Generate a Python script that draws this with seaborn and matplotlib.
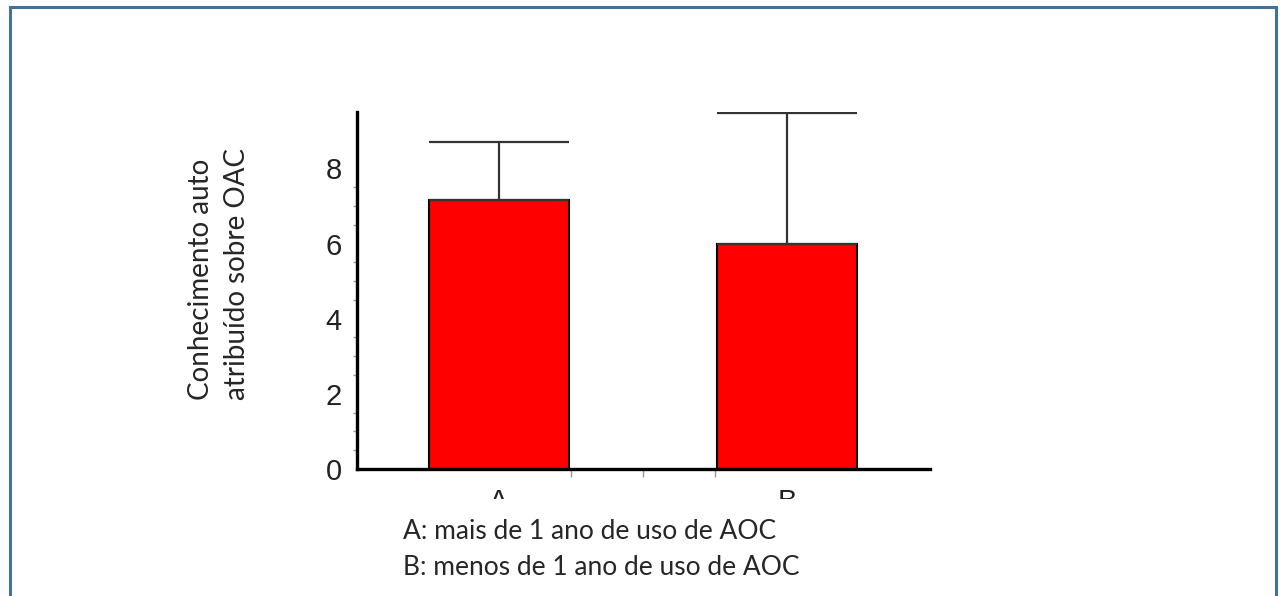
import matplotlib
matplotlib.use("Agg")
import matplotlib.pyplot as plt
import seaborn as sns
from matplotlib.patches import Rectangle
from matplotlib.ticker import FixedLocator

# data
groups = ["A", "B"]
means = [7.15, 6.0]
sd = [1.55, 3.47]
legend_lines = ["A: mais de 1 ano de uso de AOC", "B: menos de 1 ano de uso de AOC"]
ylabel = "Conhecimento auto\natribuído sobre OAC"

sns.set_style("white")
plt.rcParams["font.family"] = ["Liberation Sans Narrow", "Liberation Sans", "DejaVu Sans"]

fig = plt.figure(figsize=(12.83, 5.96), dpi=100)
ax = fig.add_axes([0.2783, 0.2131, 0.4466, 0.599])

sns.barplot(x=groups, y=means, color="#ff0000", saturation=1, width=0.485,
            edgecolor="black", linewidth=1.5, ax=ax, errorbar=None)
ax.errorbar(range(len(groups)), means, yerr=[[0, 0], sd], fmt="none",
            ecolor="#333333", elinewidth=1.6, capsize=50.4, capthick=1.6, zorder=1)

ax.set_xlim(-0.49, 1.495)
ax.set_ylim(0, 9.5)
ax.set_yticks([0, 2, 4, 6, 8])
ax.yaxis.set_minor_locator(FixedLocator([0.5 * i for i in range(1, 17) if i % 4]))
ax.xaxis.set_minor_locator(FixedLocator([0.25, 0.5, 0.75]))
ax.tick_params(axis="both", which="major", direction="out", length=6, width=1.2,
               color="#999999", labelsize=21, pad=5, labelcolor="#222222")
ax.tick_params(axis="y", which="minor", direction="out", length=3, width=1,
               color="#999999", left=True)
ax.tick_params(axis="x", which="minor", direction="out", length=6, width=1,
               color="#999999", bottom=True)
ax.tick_params(axis="x", which="major", pad=8)
ax.set_xlabel("")
ax.set_ylabel("")
for s in ["top", "right"]:
    ax.spines[s].set_visible(False)
for s in ["left", "bottom"]:
    ax.spines[s].set_linewidth(2.4)
    ax.spines[s].set_color("black")

# the category letters are half hidden behind the caption box
fig.patches.append(Rectangle((0.3, 1 - 512 / 596), 0.4, 13 / 596, transform=fig.transFigure,
                             facecolor="white", edgecolor="none", zorder=5))

fig.text(219 / 1283, 1 - 400 / 596, ylabel, rotation=90, ha="center", va="bottom",
         multialignment="left", fontsize=20, family=["Lato", "DejaVu Sans"],
         linespacing=1.5)
fig.text(403 / 1283, 1 - 539 / 596, legend_lines[0], ha="left", va="baseline",
         fontsize=19, family=["Lato", "DejaVu Sans"], zorder=6)
fig.text(403 / 1283, 1 - 575 / 596, legend_lines[1], ha="left", va="baseline",
         fontsize=19, family=["Lato", "DejaVu Sans"], zorder=6)

# outer box of the slide, bottom edge runs off the image
fig.patches.append(Rectangle((9.5 / 1283, -0.05), (1276 - 9.5) / 1283, 1.05 - 6.5 / 596,
                             transform=fig.transFigure, facecolor="none",
                             edgecolor="#41719c", linewidth=2.2, zorder=7))

fig.savefig("out.png", dpi=100)
